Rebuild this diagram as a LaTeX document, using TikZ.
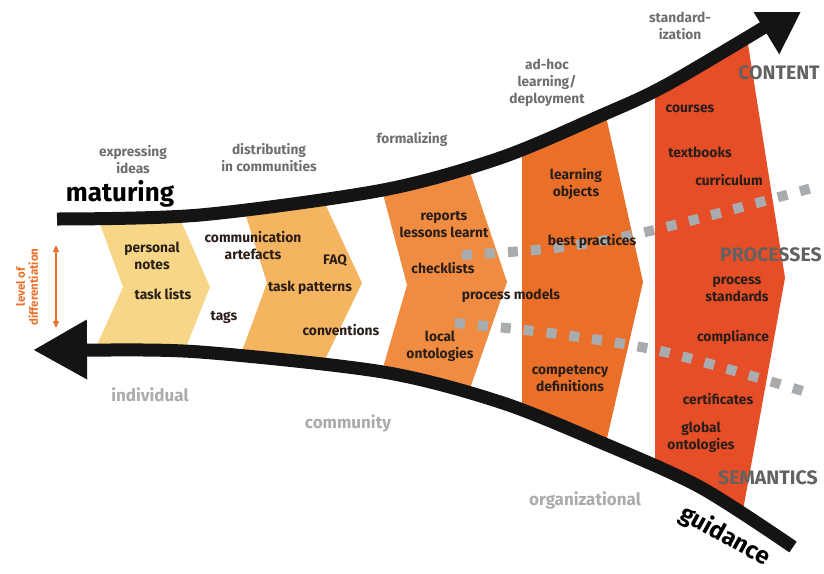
\documentclass[tikz,border=0pt]{standalone}
\usepackage{fontspec}
\setmainfont{Fira Sans}
\usetikzlibrary{arrows.meta}

\definecolor{chevA}{HTML}{F7D787}
\definecolor{chevB}{HTML}{F5B45F}
\definecolor{chevC}{HTML}{EF8C41}
\definecolor{chevD}{HTML}{EA702A}
\definecolor{chevE}{HTML}{E64E28}
\definecolor{itemtext}{HTML}{2A1E18}
\definecolor{stagegray}{HTML}{6E6E6E}
\definecolor{levelgray}{HTML}{ABABAB}
\definecolor{layergray}{HTML}{626262}
\definecolor{dotgray}{HTML}{A9ACAE}
\definecolor{diffcol}{HTML}{E8702A}

\begin{document}
\begin{tikzpicture}[x=1pt,y=-1pt,
  item/.style={font=\bfseries\fontsize{13.8}{17}\selectfont, text=itemtext, align=center, inner sep=0pt},
  stage/.style={font=\bfseries\fontsize{13.7}{17}\selectfont, text=stagegray, align=center, inner sep=0pt},
  level/.style={font=\bfseries\fontsize{17}{20}\selectfont, text=levelgray, inner sep=0pt},
  layer/.style={font=\bfseries\fontsize{19.5}{22}\selectfont, text=layergray, inner sep=0pt},
  big/.style={font=\bfseries\fontsize{26}{30}\selectfont, text=black, inner sep=0pt},
  flow/.style={line width=13pt, draw=black!92},
  dotline/.style={line width=10pt, draw=dotgray, dash pattern=on 10pt off 13pt}]

\useasboundingbox (0,0) rectangle (824,573);

\begin{scope}
\clip plot[smooth, tension=0.5] coordinates {(57,219) (200,215) (383,190) (500,158) (600,116) (670,83) (806,2)}
  -- (806,547)
  -- plot[smooth, tension=0.5] coordinates {(793,547) (700,487) (600,442) (500,402) (383,372) (200,352) (88,350) (33,350)}
  -- cycle;

\fill[chevA] (93,205) -- (174,205) -- (210,287) -- (179,365) -- (88,365) -- (123,287) -- cycle;
\fill[chevB] (241,200) -- (321,195) -- (362,283) -- (320,370) -- (235,370) -- (267,283) -- cycle;
\fill[chevC] (378,175) -- (466,160) -- (507,282) -- (466,400) -- (378,385) -- (407,285) -- cycle;
\fill[chevD] (522,0) -- (580,0) -- (643,282) -- (579,560) -- (522,560) -- cycle;
\fill[chevE] (655,0) -- (741,0) -- (785,278) -- (734,560) -- (655,560) -- cycle;
\end{scope}

\draw[dotline] plot[smooth] coordinates {(462,255) (555,248) (650,231) (812,188)};
\draw[dotline] plot[smooth] coordinates {(455,323) (550,333) (665,352) (806,392)};

\begin{scope}
\clip (0,12) rectangle (824,573);
\draw[flow, -{Triangle[length=50pt,width=58pt]}] plot[smooth, tension=0.5] coordinates {(57,219) (200,215) (383,190) (500,158) (600,116) (670,83) (806,2)};
\draw[flow, -{Triangle[length=54pt,width=56pt]}] plot[smooth, tension=0.5] coordinates {(793,547) (700,487) (600,442) (500,402) (383,372) (200,352) (88,350) (33,350)};
\end{scope}

\node[big] (maturing) at (120,194) {maturing};
\node[big, font=\bfseries\fontsize{24}{28}\selectfont, rotate=-29] (guidance) at (725,536) {guidance};

\node[stage] (expressing) at (133,160) {expressing\\ideas};
\node[stage] (distributing) at (269,158) {distributing\\in communities};
\node[stage] (formalizing) at (412,139) {formalizing};
\node[stage] (adhoc) at (547,83) {ad-hoc\\learning/\\deployment};
\node[stage] (standard) at (680,26) {standard-\\ization};

\node[layer] (content) at (779,73) {CONTENT};
\node[layer] (processes) at (771,255) {PROCESSES};
\node[layer] (semantics) at (768,478) {SEMANTICS};

\node[level] (individual) at (150,395) {individual};
\node[level] (community) at (348,423) {community};
\node[level] (organizational) at (585,500) {organizational};

\node[font=\bfseries\fontsize{11.5}{13}\selectfont, text=diffcol, align=center, rotate=90, inner sep=0pt] (differentiation) at (27,287) {level of\\differentiation};
\coordinate (difftop) at (56,245);
\coordinate (diffbot) at (56,328);
\draw[diffcol, line width=1.4pt, {Triangle[length=7pt,width=6pt]}-{Triangle[length=7pt,width=6pt]}] (difftop) -- (diffbot);

\node[item] (notes) at (152,256) {personal\\notes};
\node[item] (tasklists) at (163,294) {task lists};
\node[item] (tags) at (224,317) {tags};

\node[item] (artefacts) at (253,246) {communication\\artefacts};
\node[item] (faq) at (335,261) {FAQ};
\node[item] (patterns) at (310,288) {task patterns};
\node[item] (conventions) at (341,330) {conventions};

\node[item] (reports) at (444,225) {reports\\lessons learnt};
\node[item] (checklists) at (443,268) {checklists};
\node[item] (models) at (511,296) {process models};
\node[item] (localonto) at (440,346) {local\\ontologies};

\node[item] (objects) at (576,184) {learning\\objects};
\node[item] (practices) at (592,241) {best practices};
\node[item] (competency) at (570,379) {competency\\definitions};

\node[item] (courses) at (690,109) {courses};
\node[item] (textbooks) at (700,152) {textbooks};
\node[item] (curriculum) at (729,180) {curriculum};
\node[item] (standards) at (737,289) {process\\standards};
\node[item] (compliance) at (733,337) {compliance};
\node[item] (certificates) at (718,399) {certificates};
\node[item] (globalonto) at (701,437) {global\\ontologies};

\end{tikzpicture}
\end{document}
